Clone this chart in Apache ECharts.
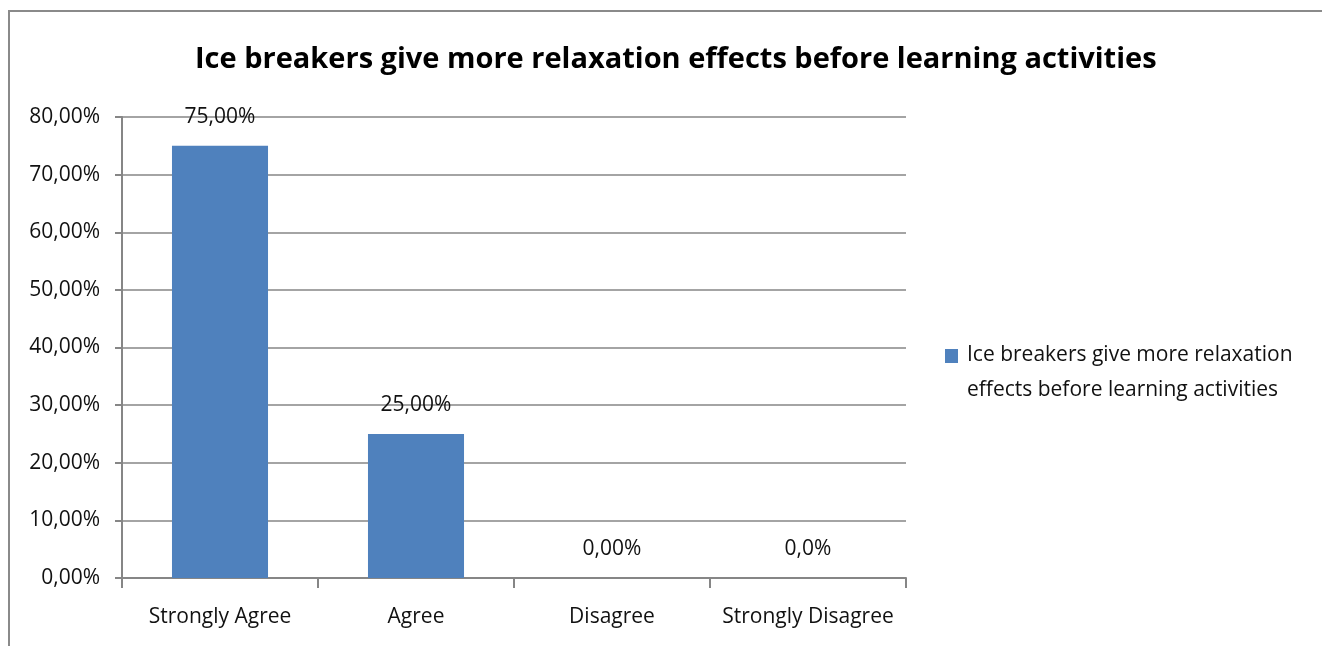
<!DOCTYPE html>
<html>
<head>
<meta charset="utf-8">
<script src="https://cdn.jsdelivr.net/npm/echarts@6/dist/echarts.min.js"></script>
<style>
  html, body { margin: 0; padding: 0; background: #fff; }
  #main { width: 1322px; height: 646px; }
</style>
</head>
<body>
<div id="main"></div>
<script>
var categories = ['Strongly Agree', 'Agree', 'Disagree', 'Strongly Disagree'];
var values = [75, 25, 0, 0];
var valueLabels = ['75,00%', '25,00%', '0,00%', '0,0%'];
var seriesName = 'Ice breakers give more relaxation effects before learning activities';

var chart = echarts.init(document.getElementById('main'));
var font = 'Open Sans';

var option = {
  backgroundColor: '#fff',
  animation: false,
  title: {
    text: seriesName,
    left: 190,
    top: 40,
    textStyle: { fontFamily: font, fontWeight: 'bold', fontSize: 29, color: '#000' }
  },
  graphic: [{
    type: 'rect',
    shape: { x: 9, y: 11, width: 1330, height: 660 },
    style: { fill: 'none', stroke: '#8a8a8a', lineWidth: 2 },
    silent: true
  }],
  legend: {
    orient: 'vertical',
    left: 940,
    top: 333,
    itemWidth: 13,
    itemHeight: 48,
    // square at the top of a tall icon box so it lines up with the first text line
    icon: 'path://M0,0L13,0L13,14L0,14Z M0,47.9L0.01,47.9L0.01,48L0,48Z',
    formatter: function () {
      return 'Ice breakers give more relaxation\neffects before learning activities';
    },
    textStyle: { fontFamily: font, fontSize: 21, color: '#111', lineHeight: 35, padding: [0, 0, 0, 4] }
  },
  grid: { left: 122, top: 117, right: 416, bottom: 68 },
  xAxis: {
    type: 'category',
    data: categories,
    axisLine: { lineStyle: { color: '#868686', width: 2 } },
    axisTick: { show: true, interval: 0, length: 10, lineStyle: { color: '#868686', width: 2 } },
    axisLabel: { interval: 0, fontFamily: font, fontSize: 21, color: '#111', margin: 29 }
  },
  yAxis: {
    type: 'value',
    min: 0,
    max: 80,
    interval: 10,
    axisLine: { show: true, lineStyle: { color: '#868686', width: 2 } },
    axisTick: { show: true, length: 7, lineStyle: { color: '#868686', width: 2 } },
    splitLine: { lineStyle: { color: '#868686', width: 1.5 } },
    axisLabel: {
      fontFamily: font, fontSize: 21, color: '#111', margin: 22,
      formatter: function (v) { return v.toFixed(2).replace('.', ',') + '%'; }
    }
  },
  series: [{
    name: seriesName,
    type: 'bar',
    data: values,
    barWidth: '49%',
    itemStyle: { color: '#4F81BD' },
    label: {
      show: true,
      position: 'top',
      distance: 18,
      fontFamily: font,
      fontSize: 21,
      color: '#111',
      formatter: function (p) { return valueLabels[p.dataIndex]; }
    }
  }]
};

chart.setOption(option);
</script>
</body>
</html>
